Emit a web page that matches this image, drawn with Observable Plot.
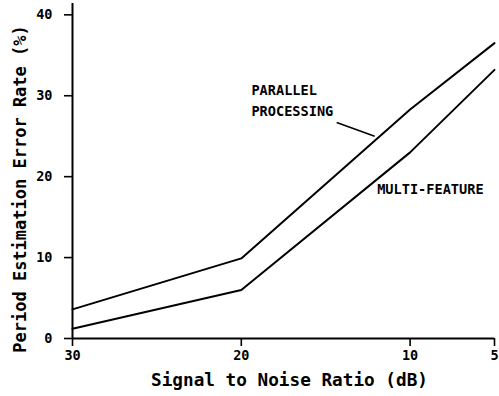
<!DOCTYPE html>
<html>
<head>
<meta charset="utf-8">
<script src="https://cdn.jsdelivr.net/npm/d3@7"></script>
<script src="https://cdn.jsdelivr.net/npm/@observablehq/plot@0.6"></script>
<style>
  html, body { margin: 0; padding: 0; background: #fff; }
  #chart svg [aria-label$="tick"] { stroke-width: 1.6; }
</style>
</head>
<body>
<div id="chart"></div>
<script>
// Data
const snr = [30, 20, 10, 5];                 // Signal to Noise Ratio (dB)
const parallelProcessing = [3.6, 9.9, 28.3, 36.5];
const multiFeature = [1.2, 6.0, 23.0, 33.2];
const xTicks = [30, 20, 10, 5];
const yTicks = [0, 10, 20, 30, 40];

const seriesNames = ["PARALLEL PROCESSING", "MULTI-FEATURE"];
const seriesValues = [parallelProcessing, multiFeature];

const rows = [];
seriesNames.forEach((name, i) => {
  snr.forEach((s, j) => rows.push({series: name, snr: s, rate: seriesValues[i][j]}));
});

// Annotation labels (data coordinates)
const labelTexts = ["PARALLEL\nPROCESSING", "MULTI-FEATURE"];
const labelX = [19.4, 11.95];
const labelY = [29.6, 18.7];
const labels = labelTexts.map((t, i) => ({text: t, x: labelX[i], y: labelY[i]}));
const leader = [{x1: 14.35, y1: 26.7, x2: 12.1, y2: 25.0}];

const font = "'DejaVu Sans Mono', 'Liberation Mono', monospace";

const chart = Plot.plot({
  width: 499,
  height: 396,
  marginLeft: 72,
  marginRight: 5,
  marginTop: 3,
  marginBottom: 58,
  style: {fontFamily: font, fontWeight: "bold", fontSize: "13.5px", background: "#fff", color: "#000"},
  x: {domain: [30, 5], ticks: xTicks, tickSize: 8, tickPadding: 4, label: null, tickFormat: d => String(d)},
  y: {domain: [0, 41.4], ticks: yTicks, tickSize: 8, tickPadding: 12, label: null, tickFormat: d => String(d)},
  marks: [
    Plot.ruleY([0], {stroke: "#000", strokeWidth: 2}),
    Plot.ruleX([30], {stroke: "#000", strokeWidth: 2}),
    Plot.line(rows, {x: "snr", y: "rate", z: "series", stroke: "#000", strokeWidth: 2}),
    Plot.link(leader, {x1: "x1", y1: "y1", x2: "x2", y2: "y2", stroke: "#000", strokeWidth: 1.5}),
    Plot.text(labels, {x: "x", y: "y", text: "text", textAnchor: "start", lineAnchor: "middle", fontSize: 13.6, lineHeight: 1.5, fontWeight: "bold"}),
    Plot.text(["Signal to Noise Ratio (dB)"], {frameAnchor: "bottom", textAnchor: "middle", dx: 6, dy: 47, fontSize: 17.7, fontWeight: "bold"}),
    Plot.text(["Period Estimation Error Rate (%)"], {frameAnchor: "left", textAnchor: "middle", dx: -52, dy: 18, rotate: -90, fontSize: 17, fontWeight: "bold"})
  ]
});

document.getElementById("chart").appendChild(chart);
</script>
</body>
</html>
